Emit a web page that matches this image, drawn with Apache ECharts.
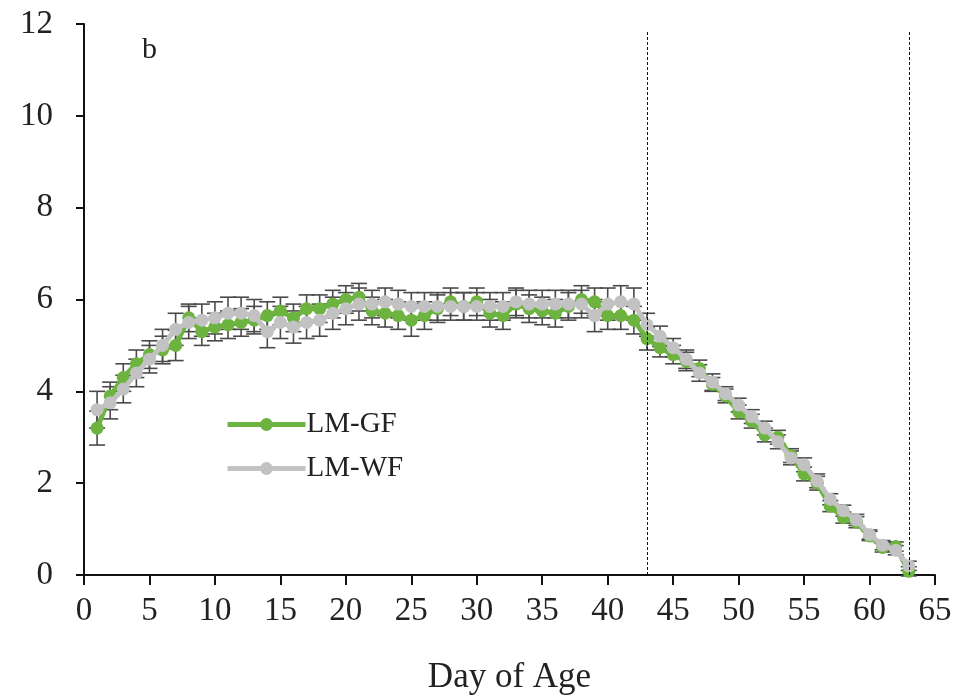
<!DOCTYPE html>
<html>
<head>
<meta charset="utf-8">
<script src="https://cdn.jsdelivr.net/npm/echarts@6/dist/echarts.min.js"></script>
<style>
  html, body { margin: 0; padding: 0; background: #fff; }
  #chart { width: 969px; height: 700px; }
</style>
</head>
<body>
<div id="chart"></div>
<script>
// Day of age (x) and series means / standard errors
const days = [1,2,3,4,5,6,7,8,9,10,11,12,13,14,15,16,17,18,19,20,21,22,23,24,25,26,27,28,29,30,31,32,33,34,35,36,37,38,39,40,41,42,43,44,45,46,47,48,49,50,51,52,53,54,55,56,57,58,59,60,61,62,63];

const lmGF = [3.2,3.9,4.3,4.6,4.8,4.9,5.0,5.6,5.3,5.4,5.45,5.5,5.55,5.65,5.75,5.6,5.8,5.8,5.9,6.0,6.05,5.75,5.7,5.65,5.55,5.65,5.8,5.95,5.85,5.95,5.7,5.65,5.9,5.8,5.75,5.7,5.85,6.0,5.95,5.65,5.65,5.55,5.15,4.95,4.8,4.65,4.5,4.15,3.9,3.55,3.35,3.05,3.0,2.6,2.2,2.0,1.5,1.25,1.15,0.85,0.6,0.62,0.08];

const lmWF = [3.6,3.75,4.05,4.4,4.7,5.0,5.35,5.5,5.55,5.6,5.7,5.7,5.65,5.3,5.5,5.4,5.5,5.55,5.7,5.8,5.9,5.9,5.95,5.9,5.85,5.85,5.85,5.85,5.85,5.85,5.85,5.85,5.95,5.9,5.9,5.9,5.9,5.9,5.65,5.9,5.95,5.9,5.45,5.2,4.95,4.7,4.4,4.2,3.95,3.7,3.45,3.2,2.9,2.55,2.4,2.05,1.65,1.4,1.2,0.88,0.65,0.54,0.2];

const errGF = [0.37,0.3,0.3,0.3,0.3,0.3,0.33,0.3,0.3,0.3,0.3,0.3,0.3,0.3,0.3,0.3,0.3,0.3,0.3,0.3,0.3,0.3,0.3,0.3,0.35,0.3,0.3,0.3,0.3,0.3,0.3,0.3,0.3,0.3,0.3,0.3,0.3,0.3,0.3,0.3,0.3,0.3,0.25,0.2,0.2,0.2,0.18,0.15,0.15,0.15,0.15,0.15,0.15,0.15,0.15,0.15,0.12,0.12,0.12,0.1,0.1,0.1,0.1];

const errWF = [0.4,0.35,0.3,0.3,0.3,0.35,0.35,0.35,0.35,0.35,0.35,0.35,0.35,0.35,0.35,0.35,0.35,0.35,0.35,0.35,0.35,0.3,0.3,0.3,0.3,0.3,0.3,0.3,0.3,0.3,0.3,0.3,0.3,0.3,0.3,0.3,0.3,0.3,0.35,0.35,0.35,0.35,0.25,0.22,0.2,0.2,0.18,0.18,0.15,0.15,0.15,0.15,0.15,0.15,0.15,0.15,0.12,0.12,0.12,0.1,0.1,0.1,0.1];

// Phase boundaries (dashed verticals) and axis ticks
const phaseDays = [43, 63];
const phaseTop = 11.85;
const xTicks = [0,5,10,15,20,25,30,35,40,45,50,55,60,65];
const yTicks = [0,2,4,6,8,10,12];

const SERIF = '"Liberation Serif", "DejaVu Serif", serif';
const GREEN = '#6cb33f';
const GREY = '#c2c2c2';

function errData(vals, errs) {
  return days.map((d, i) => [d, vals[i] - errs[i], vals[i] + errs[i]]);
}

function renderErr(params, api) {
  const x = api.value(0);
  const lo = api.coord([x, api.value(1)]);
  const hi = api.coord([x, api.value(2)]);
  const cap = 8;
  const style = { stroke: '#4a4a4a', lineWidth: 1.6 };
  return {
    type: 'group',
    children: [
      { type: 'line', shape: { x1: lo[0], y1: lo[1], x2: hi[0], y2: hi[1] }, style },
      { type: 'line', shape: { x1: lo[0] - cap, y1: lo[1], x2: lo[0] + cap, y2: lo[1] }, style },
      { type: 'line', shape: { x1: hi[0] - cap, y1: hi[1], x2: hi[0] + cap, y2: hi[1] }, style }
    ]
  };
}

const chart = echarts.init(document.getElementById('chart'));
chart.setOption({
  animation: false,
  backgroundColor: '#fff',
  textStyle: { fontFamily: SERIF },
  title: {
    text: 'b', left: 137, top: 30,
    textStyle: { fontFamily: SERIF, fontSize: 30, fontWeight: 'normal', color: '#222' }
  },
  legend: {
    data: ['LM-GF', 'LM-WF'],
    orient: 'vertical',
    left: 220, top: 405,
    itemWidth: 78, itemHeight: 16, itemGap: 15,
    lineStyle: { width: 5 },
    textStyle: { fontFamily: SERIF, fontSize: 29, color: '#222', padding: [0, 0, 0, -4] }
  },
  grid: { left: 84, right: 34, top: 24, bottom: 123, containLabel: false },
  xAxis: {
    type: 'value', min: xTicks[0], max: xTicks[xTicks.length - 1], interval: 5,
    name: 'Day of Age', nameLocation: 'middle', nameGap: 85,
    nameTextStyle: { fontFamily: SERIF, fontSize: 35, color: '#222' },
    axisLine: { lineStyle: { color: '#111', width: 2 } },
    axisTick: { show: true, length: 10, lineStyle: { color: '#111', width: 2 } },
    axisLabel: { fontFamily: SERIF, fontSize: 33, color: '#222', margin: 20 },
    splitLine: { show: false }
  },
  yAxis: {
    type: 'value', min: yTicks[0], max: yTicks[yTicks.length - 1], interval: 2,
    axisLine: { show: true, lineStyle: { color: '#111', width: 2 } },
    axisTick: { show: true, length: 8, lineStyle: { color: '#111', width: 2 } },
    axisLabel: { fontFamily: SERIF, fontSize: 33, color: '#222', margin: 31 },
    splitLine: { show: false }
  },
  series: [
    {
      name: 'errGF', type: 'custom', renderItem: renderErr,
      data: errData(lmGF, errGF), z: 1, silent: true,
      encode: { x: 0, y: [1, 2] }
    },
    {
      name: 'errWF', type: 'custom', renderItem: renderErr,
      data: errData(lmWF, errWF), z: 1, silent: true,
      encode: { x: 0, y: [1, 2] }
    },
    {
      name: 'LM-GF', type: 'line', z: 3,
      data: days.map((d, i) => [d, lmGF[i]]),
      symbol: 'circle', symbolSize: 13,
      lineStyle: { color: GREEN, width: 5 },
      itemStyle: { color: GREEN },
      markLine: {
        silent: true, symbol: 'none', label: { show: false },
        lineStyle: { color: '#111', type: [3, 2], width: 1 },
        data: phaseDays.map(d => [{ coord: [d, 0] }, { coord: [d, phaseTop] }])
      }
    },
    {
      name: 'LM-WF', type: 'line', z: 4,
      data: days.map((d, i) => [d, lmWF[i]]),
      symbol: 'circle', symbolSize: 13,
      lineStyle: { color: GREY, width: 5 },
      itemStyle: { color: GREY }
    }
  ]
});
</script>
</body>
</html>
